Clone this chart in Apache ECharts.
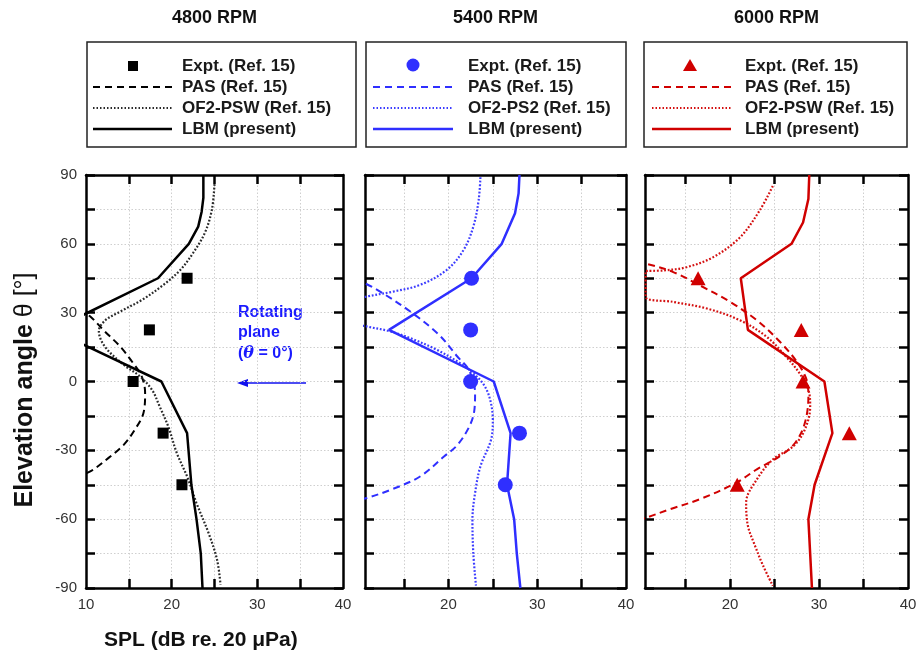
<!DOCTYPE html>
<html>
<head>
<meta charset="utf-8">
<script src="https://cdn.jsdelivr.net/npm/echarts@6/dist/echarts.min.js"></script>
<style>
  html, body { margin: 0; padding: 0; background: #ffffff; }
  #chart { width: 921px; height: 663px; }
</style>
</head>
<body>
<div id="chart"></div>
<script>
// ---- Data: SPL (dB) versus elevation angle (deg), pairs are [SPL, angle] ----
const panelTitles = ['4800 RPM', '5400 RPM', '6000 RPM'];
const exptAngles = [45, 22.5, 0, -22.5, -45];

const expt4800 = [21.8, 17.4, 15.5, 19.0, 21.2];
const expt5400 = [22.6, 22.5, 22.5, 28.0, 26.4];
const expt6000 = [16.4, 28.0, 28.2, 33.4, 20.8];

const pas4800 = [[9.2, 31.5], [10.5, 28.3], [12.2, 21.8], [14.0, 15.2], [15.5, 8], [16.5, 2.2], [16.9, -5],
  [16.7, -13.8], [15.7, -21], [14.4, -27.6], [12.6, -33.4], [10.5, -39.2], [9.2, -41]];
const of2_4800 = [[25.0, 86], [24.7, 75], [23.9, 65], [22.5, 56], [21.0, 48.6], [19.0, 42], [16.5, 35.5],
  [14.0, 30.5], [12.2, 26.5], [11.5, 22], [12.2, 15.2], [14.4, 7.3], [16.3, 2.2], [17.7, -3.6], [18.6, -10.9],
  [19.6, -19.6], [20.6, -31.2], [21.8, -41.4], [22.9, -53], [24.3, -66], [25.3, -77.7], [25.7, -88.5]];
const lbm4800 = [[23.7, 90], [23.7, 80], [23.5, 74], [23.1, 67.5], [22.0, 60], [18.4, 45], [6.1, 22.5],
  [18.8, 0], [21.8, -22.5], [22.3, -45], [22.9, -60], [23.4, -75], [23.6, -90]];

const pas5400 = [[9.5, 44.5], [10.6, 42.8], [12.3, 39.2], [15.7, 30.5], [18.9, 20.5], [21.0, 10.9], [22.3, 5],
  [23.0, -5], [22.9, -13], [22.3, -20], [21.0, -27.7], [19.5, -32.7], [16.8, -41.4], [13.5, -47.2],
  [10.8, -50.8], [9.5, -52]];
const of2_5400 = [[23.6, 89], [23.4, 79], [22.8, 67.5], [21.7, 57.3], [19.8, 48.6], [16.8, 42.1], [13.8, 39.2],
  [10.8, 37], [9.0, 35], [9.0, 26], [10.8, 24], [13.3, 22], [15.7, 18.9], [18.7, 13.8], [21.3, 8], [22.8, 3.6],
  [24.0, -1.5], [24.7, -8], [25.0, -16.7], [24.8, -25.4], [23.6, -37], [23.0, -48.6], [22.7, -60.2],
  [22.8, -74.8], [23.1, -89]];
const lbm5400 = [[28.0, 90], [27.9, 82], [27.5, 73.3], [26.0, 60], [22.6, 45], [13.3, 22.5], [25.1, 0],
  [27.0, -22.5], [26.6, -45], [27.4, -60], [27.7, -75], [28.1, -90]];

const pas6000 = [[9.5, 52], [10.6, 51.3], [13.6, 47.7], [16.6, 41.9], [20.0, 34.7], [23.0, 26.7], [25.6, 17.3],
  [27.5, 8.6], [28.6, 0.7], [28.8, -6.5], [28.4, -18.1], [27.3, -26.8], [25.6, -32.5], [23.0, -38.3],
  [20.7, -44.1], [16.6, -51.3], [13.2, -55.7], [10.6, -59.3], [9.5, -60.5]];
const of2_6000 = [[24.8, 85.2], [23.3, 74.4], [21.1, 62.8], [18.1, 54.2], [15.1, 49.8], [12.5, 48.4],
  [10.5, 48], [10.5, 37], [13.6, 34.7], [17.4, 31.8], [21.1, 26.7], [24.1, 19.5], [26.3, 10.8], [27.8, 3.6],
  [28.8, -3.6], [29.0, -10.9], [28.4, -21], [27.1, -28.2], [24.8, -34], [23.0, -42.7], [21.8, -52.8],
  [22.0, -62.9], [22.8, -71.6], [23.7, -80.2], [24.8, -89]];
const lbm6000 = [[28.9, 90], [28.8, 79.5], [28.2, 69.3], [26.9, 60], [21.2, 45], [22.0, 22.5], [30.6, 0],
  [31.5, -22.5], [29.5, -45], [28.8, -60], [29.0, -75], [29.2, -90]];

const legend4800 = ['Expt. (Ref. 15)', 'PAS (Ref. 15)', 'OF2-PSW (Ref. 15)', 'LBM (present)'];
const legend5400 = ['Expt. (Ref. 15)', 'PAS (Ref. 15)', 'OF2-PS2 (Ref. 15)', 'LBM (present)'];
const legend6000 = ['Expt. (Ref. 15)', 'PAS (Ref. 15)', 'OF2-PSW (Ref. 15)', 'LBM (present)'];

const xTickValues = [15, 20, 25, 30, 35];
const xLabels4800 = [10, 20, 30, 40];
const xLabelsOther = [20, 30, 40];

// ---- Layout and styling per panel ----
const FONT = "'Liberation Sans', Arial, sans-serif";
const panels = [
  { title: panelTitles[0], left: 86, width: 257, xMin: 10, labels: xLabels4800, showY: true,
    color: '#000000', dotColor: '#2a2a2a', symbol: 'rect', size: 11, legendSym: 'rect',
    expt: expt4800, pas: pas4800, of2: of2_4800, lbm: lbm4800, names: legend4800,
    box: { x: 87, y: 42, w: 269, h: 105, text: 95, l0: 6, l1: 85, mk: 46 } },
  { title: panelTitles[1], left: 365, width: 261, xMin: 10.6, labels: xLabelsOther, showY: false,
    color: '#2f2fff', dotColor: '#3c3cff', symbol: 'circle', size: 15, legendSym: 'circle',
    expt: expt5400, pas: pas5400, of2: of2_5400, lbm: lbm5400, names: legend5400,
    box: { x: 366, y: 42, w: 260, h: 105, text: 102, l0: 7, l1: 87, mk: 47 } },
  { title: panelTitles[2], left: 645, width: 263, xMin: 10.43, labels: xLabelsOther, showY: false,
    color: '#d00000', dotColor: '#d41010', symbol: 'triangle', size: [15, 14], legendSym: 'triangle',
    expt: expt6000, pas: pas6000, of2: of2_6000, lbm: lbm6000, names: legend6000,
    box: { x: 644, y: 42, w: 263, h: 105, text: 101, l0: 8, l1: 87, mk: 46 } }
];
const plotTop = 175, plotBottom = 663 - 588;

const grid = [], xAxis = [], yAxis = [], series = [], graphic = [];

const axisLine = { show: true, onZero: false, lineStyle: { color: '#000', width: 2.5 } };
const tickStyle = { show: true, inside: true, length: 9, lineStyle: { color: '#000', width: 2.5 } };

panels.forEach((p, i) => {
  grid.push({ left: p.left, width: p.width, top: plotTop, bottom: plotBottom, containLabel: false });

  // bottom SPL axis (data axis) and mirrored top axis
  xAxis.push({
    type: 'value', gridIndex: i, position: 'bottom', min: p.xMin, max: 40,
    axisLine: axisLine,
    axisTick: Object.assign({ customValues: xTickValues }, tickStyle),
    axisLabel: { show: true, customValues: p.labels, margin: 9, color: '#333', fontSize: 15, fontFamily: FONT },
    splitLine: { show: true, lineStyle: { color: '#cfcfcf', width: 1, type: [1.5, 2] } }
  });
  xAxis.push({
    type: 'value', gridIndex: i, position: 'top', min: p.xMin, max: 40,
    axisLine: axisLine,
    axisTick: Object.assign({ customValues: xTickValues }, tickStyle),
    axisLabel: { show: false }, splitLine: { show: false }
  });

  // elevation axis and mirrored right axis
  yAxis.push({
    type: 'value', gridIndex: i, position: 'left', min: -90, max: 90, interval: 15,
    axisLine: axisLine, axisTick: tickStyle,
    axisLabel: { show: p.showY, margin: 9, color: '#333', fontSize: 15, fontFamily: FONT,
      formatter: v => (v % 30 === 0 ? String(v) : '') },
    splitLine: { show: true, lineStyle: { color: '#cfcfcf', width: 1, type: [1.5, 2] } }
  });
  yAxis.push({
    type: 'value', gridIndex: i, position: 'right', min: -90, max: 90, interval: 15,
    axisLine: axisLine, axisTick: tickStyle,
    axisLabel: { show: false }, splitLine: { show: false }
  });

  const xi = i * 2, yi = i * 2;
  series.push({
    name: p.names[1], type: 'line', xAxisIndex: xi, yAxisIndex: yi, data: p.pas,
    showSymbol: false, symbol: 'none', smooth: 0.35, clip: true, z: 3,
    lineStyle: { color: p.color, width: 2, type: [7, 4.5] }
  });
  series.push({
    name: p.names[2], type: 'line', xAxisIndex: xi, yAxisIndex: yi, data: p.of2,
    showSymbol: false, symbol: 'none', smooth: 0.35, clip: true, z: 3,
    lineStyle: { color: p.dotColor, width: 2.2, type: [1.8, 1.8] }
  });
  series.push({
    name: p.names[3], type: 'line', xAxisIndex: xi, yAxisIndex: yi, data: p.lbm,
    showSymbol: false, symbol: 'none', smooth: false, clip: true, z: 4,
    lineStyle: { color: p.color, width: 2.5 }
  });
  series.push({
    name: p.names[0], type: 'scatter', xAxisIndex: xi, yAxisIndex: yi,
    data: exptAngles.map((a, k) => [p.expt[k], a]),
    symbol: p.symbol, symbolSize: p.size, z: 6,
    itemStyle: { color: p.color, opacity: 1 }
  });

  // panel title
  graphic.push({
    type: 'text', x: p.left + p.width / 2, y: 18,
    style: { text: p.title, font: 'bold 18px ' + FONT, fill: '#111', align: 'center', verticalAlign: 'middle' }
  });

  // legend box
  const b = p.box;
  const rows = [66, 87, 108, 129];
  const children = [];
  children.push({ type: 'rect', shape: { x: b.x, y: b.y, width: b.w, height: b.h },
    style: { fill: '#fff', stroke: '#222', lineWidth: 1.5 } });
  p.names.forEach((n, k) => {
    children.push({ type: 'text', x: b.x + b.text, y: rows[k],
      style: { text: n, font: 'bold 17px ' + FONT, fill: '#1a1a1a', align: 'left', verticalAlign: 'middle' } });
  });
  const mx = b.x + b.mk, my = rows[0];
  if (p.legendSym === 'rect') {
    children.push({ type: 'rect', shape: { x: mx - 5, y: my - 5, width: 10, height: 10 }, style: { fill: p.color } });
  } else if (p.legendSym === 'circle') {
    children.push({ type: 'circle', shape: { cx: mx, cy: my - 1, r: 6.5 }, style: { fill: p.color } });
  } else {
    children.push({ type: 'polygon', shape: { points: [[mx, my - 7], [mx - 7, my + 5], [mx + 7, my + 5]] },
      style: { fill: p.color } });
  }
  const lineDefs = [
    { y: rows[1], dash: [7, 5], w: 2, c: p.color },
    { y: rows[2], dash: [1.5, 2], w: 2, c: p.dotColor },
    { y: rows[3], dash: null, w: 2.5, c: p.color }
  ];
  lineDefs.forEach(d => {
    children.push({ type: 'line', shape: { x1: b.x + b.l0, y1: d.y, x2: b.x + b.l1, y2: d.y },
      style: { stroke: d.c, lineWidth: d.w, lineDash: d.dash } });
  });
  graphic.push({ type: 'group', children: children });
});

// rotating plane annotation
graphic.push({
  type: 'text', x: 238, y: 313,
  style: { text: 'Rotating', font: 'bold 16px ' + FONT, fill: '#1a1aff', verticalAlign: 'middle' }
});
graphic.push({
  type: 'text', x: 238, y: 333,
  style: { text: 'plane', font: 'bold 16px ' + FONT, fill: '#1a1aff', verticalAlign: 'middle' }
});
graphic.push({
  type: 'text', x: 238, y: 354,
  style: {
    text: '{p|(}{t|θ}{p| = 0°)}', verticalAlign: 'middle',
    rich: {
      p: { font: 'bold 16px ' + FONT, fill: '#1a1aff' },
      t: { font: 'italic bold 16px "DejaVu Serif", serif', fill: '#1a1aff' }
    }
  }
});
graphic.push({ type: 'line', shape: { x1: 306, y1: 383, x2: 246, y2: 383 }, style: { stroke: '#1010ee', lineWidth: 1.5 } });
graphic.push({ type: 'polygon', shape: { points: [[237, 383], [248, 379], [248, 387]] }, style: { fill: '#1010ee' } });

// axis titles
graphic.push({
  type: 'text', x: 25, y: 390, rotation: Math.PI / 2,
  style: {
    text: '{b|Elevation angle }{t|θ [°]}', align: 'center', verticalAlign: 'middle',
    rich: {
      b: { font: 'bold 25px ' + FONT, fill: '#111' },
      t: { font: '25px ' + FONT, fill: '#111' }
    }
  }
});
graphic.push({
  type: 'text', x: 104, y: 640,
  style: { text: 'SPL (dB re. 20 μPa)', font: 'bold 21px ' + FONT, fill: '#111', verticalAlign: 'middle' }
});

const chart = echarts.init(document.getElementById('chart'), null, { renderer: 'canvas' });
chart.setOption({
  animation: false,
  backgroundColor: '#ffffff',
  grid: grid, xAxis: xAxis, yAxis: yAxis, series: series, graphic: graphic
});
</script>
</body>
</html>
